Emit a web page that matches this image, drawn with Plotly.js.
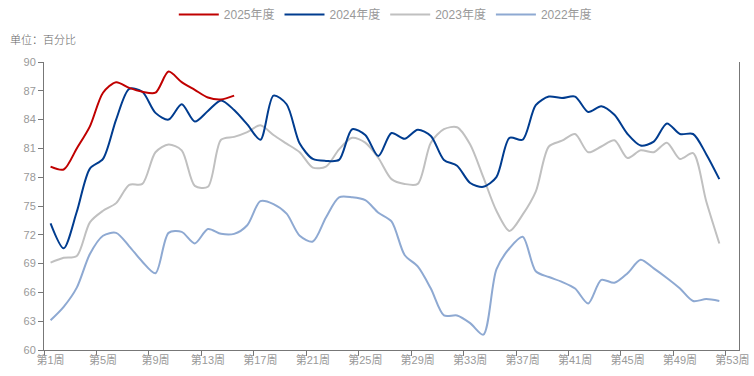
<!DOCTYPE html>
<html><head><meta charset="utf-8">
<script src="https://cdn.plot.ly/plotly-3.0.1.min.js"></script>
<style>html,body{margin:0;padding:0;background:#fff}#chart{width:754px;height:376px}</style>
</head><body><div id="chart"></div>
<script>
const weeks = Array.from({length: 52}, (_, i) => i + 1);
const tickWeeks = [1,5,9,13,17,21,25,29,33,37,41,45,49,53];
const tickLabels = tickWeeks.map(w => '第' + w + '周');

const y2025 = [79.1,78.8,81.0,83.3,86.8,87.9,87.3,86.9,86.8,89.0,87.9,87.1,86.3,86.1,86.5];
const y2024 = [73.2,70.6,74.4,78.9,79.9,84.0,87.2,86.9,84.7,84.0,85.6,83.8,84.9,86.0,85.0,
  83.5,81.9,86.5,85.6,81.5,79.9,79.7,79.8,83.0,82.4,80.2,82.6,82.0,82.95,82.3,
  79.8,79.2,77.4,77.0,78.0,82.1,81.9,85.5,86.4,86.25,86.4,84.8,85.4,84.5,82.5,
  81.3,81.7,83.6,82.5,82.5,80.4,77.8];
const y2023 = [69.1,69.6,69.8,73.3,74.5,75.3,77.2,77.3,80.6,81.4,80.8,77.1,77.0,81.9,82.2,
  82.7,83.4,82.4,81.5,80.6,79.0,79.1,80.9,82.1,81.6,80.0,77.8,77.3,77.3,81.6,
  83.0,83.2,81.4,78.0,74.5,72.4,74.1,76.5,81.2,81.8,82.5,80.6,81.2,81.85,80.0,
  80.8,80.6,81.6,79.9,80.5,75.5,71.1];
const y2022 = [63.1,64.5,66.5,70.0,71.9,72.2,70.8,69.2,68.0,72.2,72.3,71.1,72.6,72.1,72.1,
  73.0,75.5,75.2,74.2,71.9,71.3,73.8,75.9,75.9,75.6,74.3,73.4,69.9,68.7,66.4,
  63.6,63.6,62.8,61.6,68.4,70.6,71.8,68.2,67.6,67.1,66.4,64.85,67.3,67.0,68.0,
  69.4,68.5,67.5,66.4,65.1,65.3,65.1];

const font = 'Liberation Sans, Arial, "Noto Sans CJK SC", sans-serif';
function tr(name, y, color) {
  return {x: weeks.slice(0, y.length), y: y, name: name, type: 'scatter', mode: 'lines',
    line: {color: color, width: 2, shape: 'spline', smoothing: 0.8}, hoverinfo: 'skip'};
}
const data = [
  tr('2022年度', y2022, '#8EA9D2'),
  tr('2023年度', y2023, '#C0C0C0'),
  tr('2024年度', y2024, '#003C8F'),
  tr('2025年度', y2025, '#C00000')
];
const layout = {
  width: 754, height: 376,
  margin: {l: 44, r: 15, t: 62, b: 26},
  paper_bgcolor: '#fff', plot_bgcolor: '#fff',
  font: {family: font, size: 11, color: '#888'},
  showlegend: true,
  legend: {orientation: 'h', traceorder: 'reversed', xref: 'container', yref: 'container',
    x: 0.511, xanchor: 'center', y: 1, yanchor: 'top', itemwidth: 40,
    font: {family: font, size: 12, color: '#999'}},
  xaxis: {range: [0.5, 53.5], tickvals: tickWeeks, ticktext: tickLabels, ticks: '',
    showline: true, linecolor: '#777', linewidth: 1, showgrid: false, zeroline: false,
    tickfont: {family: font, size: 11, color: '#999'},
    minor: {tick0: 0.5, dtick: 4, ticks: 'outside', ticklen: 5, tickcolor: '#777', showgrid: false}},
  yaxis: {range: [60, 90], dtick: 3, tick0: 60, ticks: 'outside', ticklen: 5, tickcolor: '#777',
    showline: true, linecolor: '#777', linewidth: 1, mirror: true, showgrid: false, zeroline: false,
    tickfont: {family: font, size: 11, color: '#999'}},
  annotations: [{text: '单位：百分比', xref: 'paper', yref: 'paper', x: -0.0525, y: 1.079,
    xanchor: 'left', yanchor: 'middle', showarrow: false,
    font: {family: '"Noto Sans CJK SC", sans-serif', size: 11, color: '#666', weight: 300}}]
};
Plotly.newPlot('chart', data, layout, {displayModeBar: false, staticPlot: true});
</script></body></html>
